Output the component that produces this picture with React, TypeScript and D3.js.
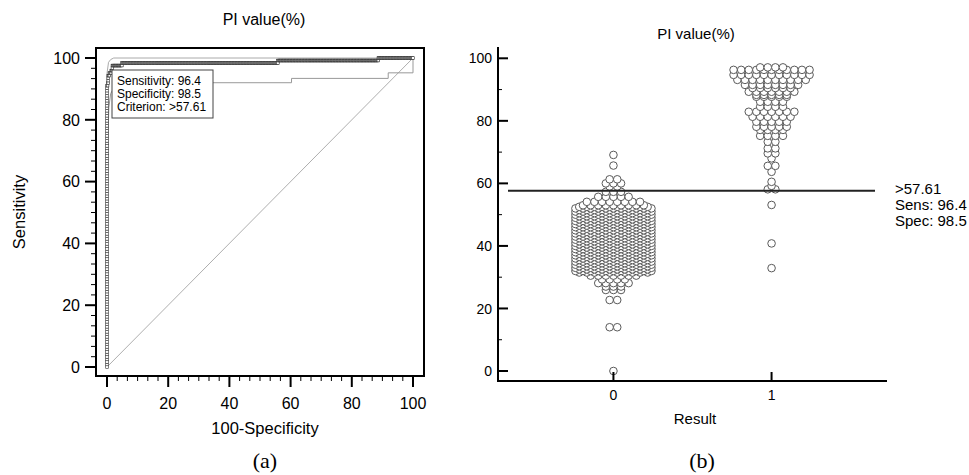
import React from 'react';
import * as d3 from 'd3';

// ROC confidence bounds
const upperFpr = [0, 0, 0.5, 1.2, 2.2, 100];
const upperTpr = [0, 95, 98.6, 99.5, 100, 100];
const lowerFpr = [0, 0.2, 0.6, 1.2, 2.5, 4, 60.3, 60.3, 91.9, 91.9, 100, 100];
const lowerTpr = [0, 70, 84, 88.5, 90.8, 92, 92, 93.4, 93.4, 95.2, 95.2, 100];

const axisTicks = [0, 20, 40, 60, 80, 100];
const categories = ['0', '1'];

// dot plot, [PI value, number of cases]
const negBins: [number, number][] = [
  [0, 1], [14, 2], [22.7, 2], [25.9, 3], [27, 3], [28.1, 5], [29.3, 4], [30.5, 7],
  [31.5, 10], [32, 11], [32.5, 10], [33, 11], [33.5, 10], [34, 11], [34.5, 10], [35, 11],
  [35.5, 10], [36, 11], [36.5, 10], [37, 11], [37.5, 10], [38, 11], [38.5, 10], [39, 11],
  [39.5, 10], [40, 11], [40.5, 10], [41, 11], [41.5, 10], [42, 11], [42.5, 10], [43, 11],
  [43.5, 10], [44, 11], [44.5, 10], [45, 11], [45.5, 10], [46, 11], [46.5, 10], [47, 11],
  [47.5, 10], [48, 11], [48.5, 10], [49, 11], [49.5, 10], [50, 11], [50.5, 10], [51, 11],
  [51.5, 10], [52, 11], [52.5, 10], [53, 9], [54.1, 8], [55.7, 5], [57.3, 3], [59, 2],
  [60, 3], [61.3, 2], [65.7, 1], [69.1, 1],
];
const posBins: [number, number][] = [
  [32.9, 1], [40.8, 1], [53.1, 1], [58.1, 2], [59.2, 1], [60.5, 1], [63.7, 1], [65.6, 2],
  [68, 1], [69.6, 2], [71.2, 2], [73.3, 2], [75.2, 4], [77.1, 4], [78.1, 5], [79.7, 5],
  [81.3, 6], [82.9, 7], [84.5, 4], [86.1, 4], [87.7, 5], [88.3, 5], [89.3, 7], [90.5, 6],
  [91.5, 8], [93.1, 10], [94.7, 11], [96.3, 11], [97.1, 4],
];

const cutoff = 57.61;
const statLines = ['Sensitivity: 96.4', 'Specificity: 98.5', 'Criterion: >57.61'];
const cutLines = ['>57.61', 'Sens: 96.4', 'Spec: 98.5'];

const sans = '"Liberation Sans", Arial, sans-serif';
const serif = '"Liberation Serif", "Times New Roman", serif';

const expand = (bins: [number, number][]) =>
  bins.flatMap(([v, n]) => d3.range(n).map((i) => ({ v, off: (i - (n - 1) / 2) * 7.6 })));

export default function App() {
  // left panel scales
  const x = d3.scaleLinear().domain([0, 100]).range([107, 413]);
  const y = d3.scaleLinear().domain([0, 100]).range([367, 58]);
  // right panel scales
  const y2 = d3.scaleLinear().domain([0, 100]).range([371, 58.3]);
  const xc = d3.scalePoint<string>().domain(categories).range([498, 887]).padding(0.73);

  const neg = expand(negBins);
  const pos = expand(posBins);

  // empirical ROC from the two groups
  const obs = [...neg.map((d) => ({ v: d.v, p: 0 })), ...pos.map((d) => ({ v: d.v, p: 1 }))].sort(
    (a, b) => b.v - a.v
  );
  let tp = 0;
  let fp = 0;
  const roc: [number, number][] = [[0, 0]];
  obs.forEach((o) => {
    if (o.p) tp++;
    else fp++;
    roc.push([(fp / neg.length) * 100, (tp / pos.length) * 100]);
  });

  const ln = d3
    .line<[number, number]>()
    .x((d) => x(d[0]))
    .y((d) => y(d[1]));
  const upper = upperFpr.map((f, i) => [f, upperTpr[i]] as [number, number]);
  const lower = lowerFpr.map((f, i) => [f, lowerTpr[i]] as [number, number]);

  const minor = d3.range(0, 100.01, 20 / 6).filter((t) => Math.abs(t / 20 - Math.round(t / 20)) > 0.01);
  const minor2 = [10, 30, 50, 70, 90];

  return (
    <div style={{ position: 'absolute', left: 0, top: 0 }}>
      <svg width={969} height={475} style={{ display: 'block', background: '#fff' }}>
        {/* ---------- (a) ROC curve ---------- */}
        <text x={264} y={25} textAnchor="middle" fontFamily={sans} fontSize={16}>
          PI value(%)
        </text>
        <line x1={x(0)} y1={y(0)} x2={x(100)} y2={y(100)} stroke="#999" strokeWidth={0.8} />
        <path d={ln(upper) ?? ''} fill="none" stroke="#aaa" strokeWidth={1} />
        <path d={ln(lower) ?? ''} fill="none" stroke="#999" strokeWidth={1} />
        <path d={ln(roc) ?? ''} fill="none" stroke="#000" strokeWidth={1.6} />
        {roc.map((d, i) => (
          <rect
            key={i}
            x={x(d[0]) - 1.3}
            y={y(d[1]) - 1.3}
            width={2.6}
            height={2.6}
            fill="#fff"
            stroke="#333"
            strokeWidth={0.6}
          />
        ))}
        <rect x={112} y={70} width={101} height={48} fill="#fff" stroke="#444" strokeWidth={1} />
        {statLines.map((s, i) => (
          <text key={s} x={117} y={85 + i * 13} fontFamily={sans} fontSize={12}>
            {s}
          </text>
        ))}
        <rect x={96} y={48} width={328} height={328} fill="none" stroke="#000" strokeWidth={2} />
        {axisTicks.map((t) => (
          <g key={'ly' + t}>
            <line x1={85} x2={96} y1={y(t)} y2={y(t)} stroke="#000" strokeWidth={2} />
            <text x={80} y={y(t)} dy="0.36em" textAnchor="end" fontFamily={sans} fontSize={16}>
              {t}
            </text>
          </g>
        ))}
        {minor.map((t) => (
          <line key={'lym' + t} x1={91} x2={96} y1={y(t)} y2={y(t)} stroke="#000" strokeWidth={1} />
        ))}
        {axisTicks.map((t) => (
          <g key={'lx' + t}>
            <line x1={x(t)} x2={x(t)} y1={376} y2={387} stroke="#000" strokeWidth={2} />
            <text x={x(t)} y={409} textAnchor="middle" fontFamily={sans} fontSize={16}>
              {t}
            </text>
          </g>
        ))}
        {minor.map((t) => (
          <line key={'lxm' + t} x1={x(t)} x2={x(t)} y1={376} y2={381} stroke="#000" strokeWidth={1} />
        ))}
        <text x={265} y={434} textAnchor="middle" fontFamily={sans} fontSize={16.5}>
          100-Specificity
        </text>
        <text
          transform={`translate(25,212) rotate(-90)`}
          textAnchor="middle"
          fontFamily={sans}
          fontSize={16.5}
        >
          Sensitivity
        </text>
        <text x={265} y={468} textAnchor="middle" fontFamily={serif} fontSize={22}>
          (a)
        </text>

        {/* ---------- (b) dot plot ---------- */}
        <text x={696} y={39} textAnchor="middle" fontFamily={sans} fontSize={15}>
          PI value(%)
        </text>
        {neg.map((d, i) => (
          <circle key={'n' + i} cx={(xc('0') ?? 0) + d.off} cy={y2(d.v)} r={3.8} fill="#fff" stroke="#5a5a5a" strokeWidth={1} />
        ))}
        {pos.map((d, i) => (
          <circle key={'p' + i} cx={(xc('1') ?? 0) + d.off} cy={y2(d.v)} r={3.8} fill="#fff" stroke="#5a5a5a" strokeWidth={1} />
        ))}
        <line x1={508} x2={875} y1={y2(cutoff)} y2={y2(cutoff)} stroke="#222" strokeWidth={2} />
        {cutLines.map((s, i) => (
          <text key={s} x={895} y={193.5 + i * 16} fontFamily={sans} fontSize={15}>
            {s}
          </text>
        ))}
        <line x1={498} x2={498} y1={47} y2={382} stroke="#000" strokeWidth={2} />
        <line x1={497} x2={887} y1={381} y2={381} stroke="#000" strokeWidth={2} />
        {axisTicks.map((t) => (
          <g key={'ry' + t}>
            <line x1={498} x2={508} y1={y2(t)} y2={y2(t)} stroke="#000" strokeWidth={2} />
            <text x={492} y={y2(t)} dy="0.36em" textAnchor="end" fontFamily={sans} fontSize={14}>
              {t}
            </text>
          </g>
        ))}
        {minor2.map((t) => (
          <line key={'rym' + t} x1={498} x2={502} y1={y2(t)} y2={y2(t)} stroke="#000" strokeWidth={1} />
        ))}
        {categories.map((c) => (
          <g key={'rx' + c}>
            <line x1={xc(c)} x2={xc(c)} y1={372} y2={381} stroke="#000" strokeWidth={2} />
            <text x={xc(c)} y={400} textAnchor="middle" fontFamily={sans} fontSize={14}>
              {c}
            </text>
          </g>
        ))}
        <text x={695} y={424} textAnchor="middle" fontFamily={sans} fontSize={15}>
          Result
        </text>
        <text x={702} y={468} textAnchor="middle" fontFamily={serif} fontSize={22}>
          (b)
        </text>
      </svg>
    </div>
  );
}
